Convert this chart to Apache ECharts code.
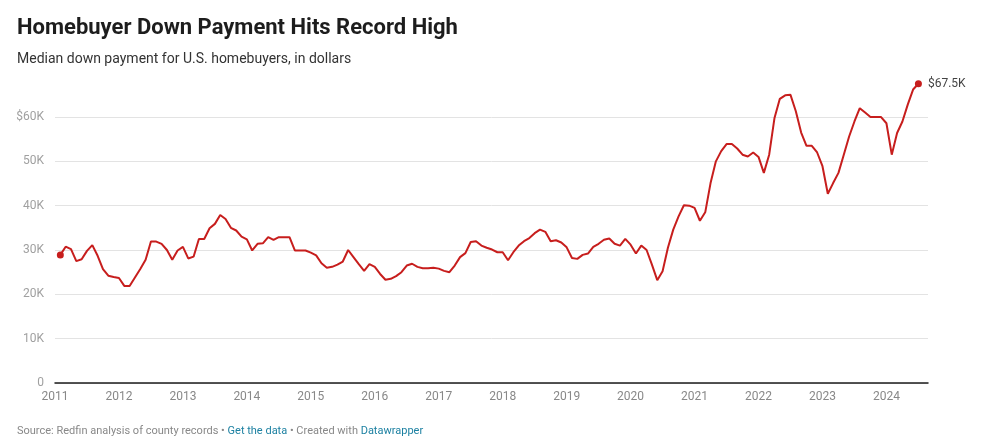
<!DOCTYPE html>
<html>
<head>
<meta charset="utf-8">
<script src="https://cdn.jsdelivr.net/npm/echarts@6/dist/echarts.min.js"></script>
<style>
html,body{margin:0;padding:0;background:#fff;}
#chart{width:981px;height:444px;}
</style>
</head>
<body>
<div id="chart"></div>
<script>
// Monthly series, first month January 2011
const startYear = 2011;
const startMonth = 0;
// Median down payment, dollars (one value per month, Jan 2011 .. Jun 2024)
const values2011 = [28900,30750,30200,27500,27900,29800,31100,28700,25700,24200,23900,23700];
const values2012 = [21900,21900,23800,25700,27800,31900,31900,31400,30000,27800,29900,30700];
const values2013 = [28100,28500,32500,32500,34900,35900,37900,37000,35000,34400,33000,32400];
const values2014 = [29900,31400,31500,32900,32300,32900,32900,32900,29900,29900,29900,29400];
const values2015 = [28800,27000,26000,26200,26700,27400,30000,28400,26800,25300,26800,26200];
const values2016 = [24600,23300,23500,24100,25000,26500,26900,26200,25900,25900,26000,25800];
const values2017 = [25300,25000,26500,28400,29300,31800,32000,31000,30500,30100,29500,29500];
const values2018 = [27700,29500,31000,32000,32700,33800,34600,34100,32000,32200,31700,30600];
const values2019 = [28200,28000,28900,29200,30700,31400,32300,32600,31400,31000,32500,31200];
const values2020 = [29200,31000,30000,26700,23200,25200,30500,34600,37600,40100,40000,39500];
const values2021 = [36600,38500,45100,50000,52300,53900,53900,52900,51500,51100,52000,51000];
const values2022 = [47400,51500,59800,64100,64900,65000,61300,56500,53500,53500,52000,48900];
const values2023 = [42700,45100,47400,51500,55600,59000,62000,61000,60000,60000,60000,58600];
const values2024 = [51500,56400,59000,62800,66200,67500];

const values = [].concat(values2011, values2012, values2013, values2014, values2015,
  values2016, values2017, values2018, values2019, values2020, values2021, values2022,
  values2023, values2024);

// x position: each monthly value is dated at the end of its month (fractional year)
const xYears = values.map((v, i) => startYear + (startMonth + i + 1) / 12);

const yTicks = ['0', '10K', '20K', '30K', '40K', '50K', '$60K'];
const yearTicks = ['2011','2012','2013','2014','2015','2016','2017','2018','2019','2020','2021','2022','2023','2024'];

const titleText = 'Homebuyer Down Payment Hits Record High';
const subtitleText = 'Median down payment for U.S. homebuyers, in dollars';

const last = values.length - 1;
const seriesData = values.map((v, i) => {
  const item = { value: [xYears[i], v] };
  if (i === 0 || i === last) {
    item.symbol = 'circle';
    item.symbolSize = 7;
  }
  if (i === last) {
    item.label = {
      show: true,
      position: 'right',
      distance: 6,
      color: '#444444',
      fontSize: 12,
      fontFamily: 'Roboto',
      formatter: (p) => '$' + (p.value[1] / 1000).toFixed(1) + 'K'
    };
  }
  return item;
});

const chart = echarts.init(document.getElementById('chart'), null, { renderer: 'canvas' });
const gridColor = '#e3e3e3';
chart.setOption({
  backgroundColor: '#ffffff',
  animation: false,
  title: [
    {
      text: titleText,
      left: 12, top: 12,
      textStyle: { fontFamily: 'Roboto', fontWeight: 'bold', fontSize: 22, color: '#1d1d1d' }
    },
    {
      text: subtitleText,
      left: 12, top: 47,
      textStyle: { fontFamily: 'Roboto', fontWeight: 'normal', fontSize: 14, color: '#333333' }
    },
    {
      text: '{g|Source: Redfin analysis of county records • }{b|Get the data}{g| • Created with }{b|Datawrapper}',
      left: 12, top: 421,
      textStyle: {
        fontFamily: 'Roboto', fontSize: 11, fontWeight: 'normal',
        rich: {
          g: { fontFamily: 'Roboto', fontSize: 11, fontWeight: 'normal', color: '#888888' },
          b: { fontFamily: 'Roboto', fontSize: 11, fontWeight: 'normal', color: '#1d81a2' }
        }
      }
    }
  ],
  grid: { left: 55, right: 53, top: 72.7, bottom: 61, containLabel: false },
  xAxis: {
    type: 'value',
    min: 2011,
    max: 2024.65,
    interval: 1,
    axisLine: { show: true, onZero: false, lineStyle: { color: '#1d1d1d', width: 1.5 } },
    axisTick: { show: false },
    splitLine: { show: false },
    axisLabel: {
      showMaxLabel: false,
      margin: 8,
      color: '#888888',
      fontFamily: 'Roboto',
      fontSize: 12,
      formatter: (v) => {
        const idx = Math.round(v) - startYear;
        return (Math.abs(v - Math.round(v)) < 1e-6 && yearTicks[idx]) ? yearTicks[idx] : '';
      }
    }
  },
  yAxis: {
    type: 'value',
    min: 0,
    max: 70000,
    interval: 10000,
    axisLine: { show: false },
    axisTick: { show: false },
    splitLine: {
      show: true,
      showMaxLine: false,
      lineStyle: { color: [gridColor, gridColor, gridColor, gridColor, gridColor, gridColor, gridColor, 'rgba(0,0,0,0)'], width: 1 }
    },
    axisLabel: {
      showMaxLabel: false,
      margin: 11,
      color: '#a0a0a0',
      fontFamily: 'Roboto',
      fontSize: 12,
      formatter: (v) => {
        const idx = Math.round(v / 10000);
        return yTicks[idx] !== undefined ? yTicks[idx] : '';
      }
    }
  },
  series: [{
    type: 'line',
    data: seriesData,
    symbol: 'none',
    showSymbol: true,
    showAllSymbol: true,
    lineStyle: { color: '#c71e1d', width: 2 },
    itemStyle: { color: '#c71e1d' },
    emphasis: { disabled: true },
    z: 3
  }]
});
</script>
</body>
</html>
